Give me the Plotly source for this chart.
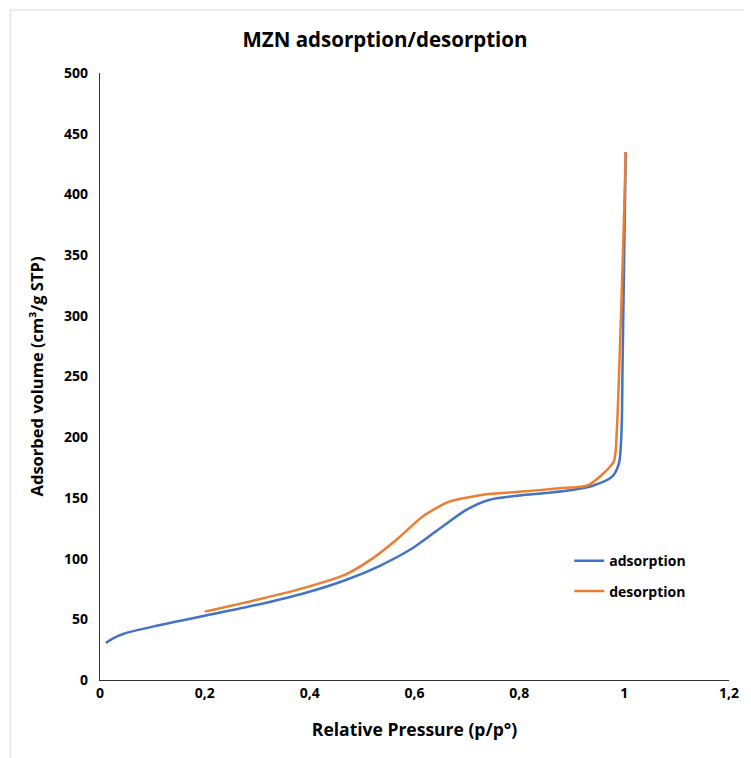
import plotly.graph_objects as go

ads_x = [0.011, 0.025, 0.044, 0.108, 0.197, 0.298, 0.393, 0.469, 0.533, 0.596, 0.653, 0.698, 0.742, 0.80, 0.85, 0.90, 0.94, 0.977, 0.99, 0.995, 0.997, 1.003]
ads_y = [30.5, 34.3, 37.9, 44.7, 52.7, 61.8, 71.9, 82.4, 93.9, 108.5, 126.3, 140.0, 148.3, 152.0, 154.0, 156.5, 160.0, 167.5, 178.5, 206.0, 261.0, 435.0]

des_x = [0.2, 0.298, 0.393, 0.469, 0.52, 0.565, 0.615, 0.666, 0.742, 0.80, 0.876, 0.932, 0.98, 0.986, 0.993, 0.999, 1.003]
des_y = [56.3, 65.9, 76.3, 87.0, 100.2, 115.3, 134.5, 146.9, 153.2, 155.0, 157.9, 160.6, 179.8, 206.0, 288.0, 370.7, 435.0]

x_ticks = [0, 0.2, 0.4, 0.6, 0.8, 1, 1.2]
x_tick_labels = ["0", "0,2", "0,4", "0,6", "0,8", "1", "1,2"]
y_ticks = [0, 50, 100, 150, 200, 250, 300, 350, 400, 450, 500]

FONT = "Open Sans, sans-serif"
W, H = 743, 750
L, R, T, B = 92, 20, 65, 78
PW, PH = W - L - R, H - T - B

fig = go.Figure()
fig.add_trace(go.Scatter(x=ads_x, y=ads_y, mode="lines", name="adsorption", legendgroup="a",
                         line=dict(color="#4472C4", width=2.5, shape="spline", smoothing=0.8)))
fig.add_trace(go.Scatter(x=des_x, y=des_y, mode="lines", name="desorption", legendgroup="d",
                         line=dict(color="#ED7D31", width=2.5, shape="spline", smoothing=0.6)))

tickfont = dict(size=14, family=FONT, color="#000", weight="bold")

fig.update_layout(
    width=W, height=H,
    margin=dict(l=L, r=R, t=T, b=B),
    paper_bgcolor="white", plot_bgcolor="white",
    font=dict(family=FONT, color="#000000"),
    title=dict(text="<b>MZN adsorption/desorption</b>", x=(385 - 8) / W, xanchor="center",
               y=1 - 32 / H, yanchor="middle", font=dict(size=20.5, family=FONT, color="#000")),
    showlegend=True,
    legend=dict(x=0.746, y=0.222, xanchor="left", yanchor="top", bgcolor="rgba(0,0,0,0)",
                font=dict(size=14, family=FONT, color="#000", weight="bold"),
                tracegroupgap=9, itemwidth=30),
    xaxis=dict(range=[0, 1.2], tickvals=x_ticks, ticktext=x_tick_labels,
               showgrid=False, zeroline=False, showline=True, linecolor="#333", linewidth=1.2,
               ticks="", tickfont=tickfont,
               title=dict(text="<b>Relative Pressure (p/p°)</b>", font=dict(size=17.5, family=FONT, color="#000"), standoff=22)),
    yaxis=dict(range=[0, 500], tickvals=y_ticks,
               showgrid=False, zeroline=False, showline=True, linecolor="#333", linewidth=1.2,
               ticks="", tickfont=tickfont, ticklabelstandoff=8,
               title=dict(text="<b>Adsorbed volume (cm³/g STP)</b>", font=dict(size=16.5, family=FONT, color="#000"), standoff=16)),
)

fig.add_shape(type="rect", xref="paper", yref="paper",
              x0=(2 - L) / PW, x1=(W + 20 - L) / PW,
              y0=(T + PH - (H + 20)) / PH, y1=(T + PH - 2) / PH,
              line=dict(color="#D9D9D9", width=1), fillcolor="rgba(0,0,0,0)", layer="below")

fig.write_html("out.html")
